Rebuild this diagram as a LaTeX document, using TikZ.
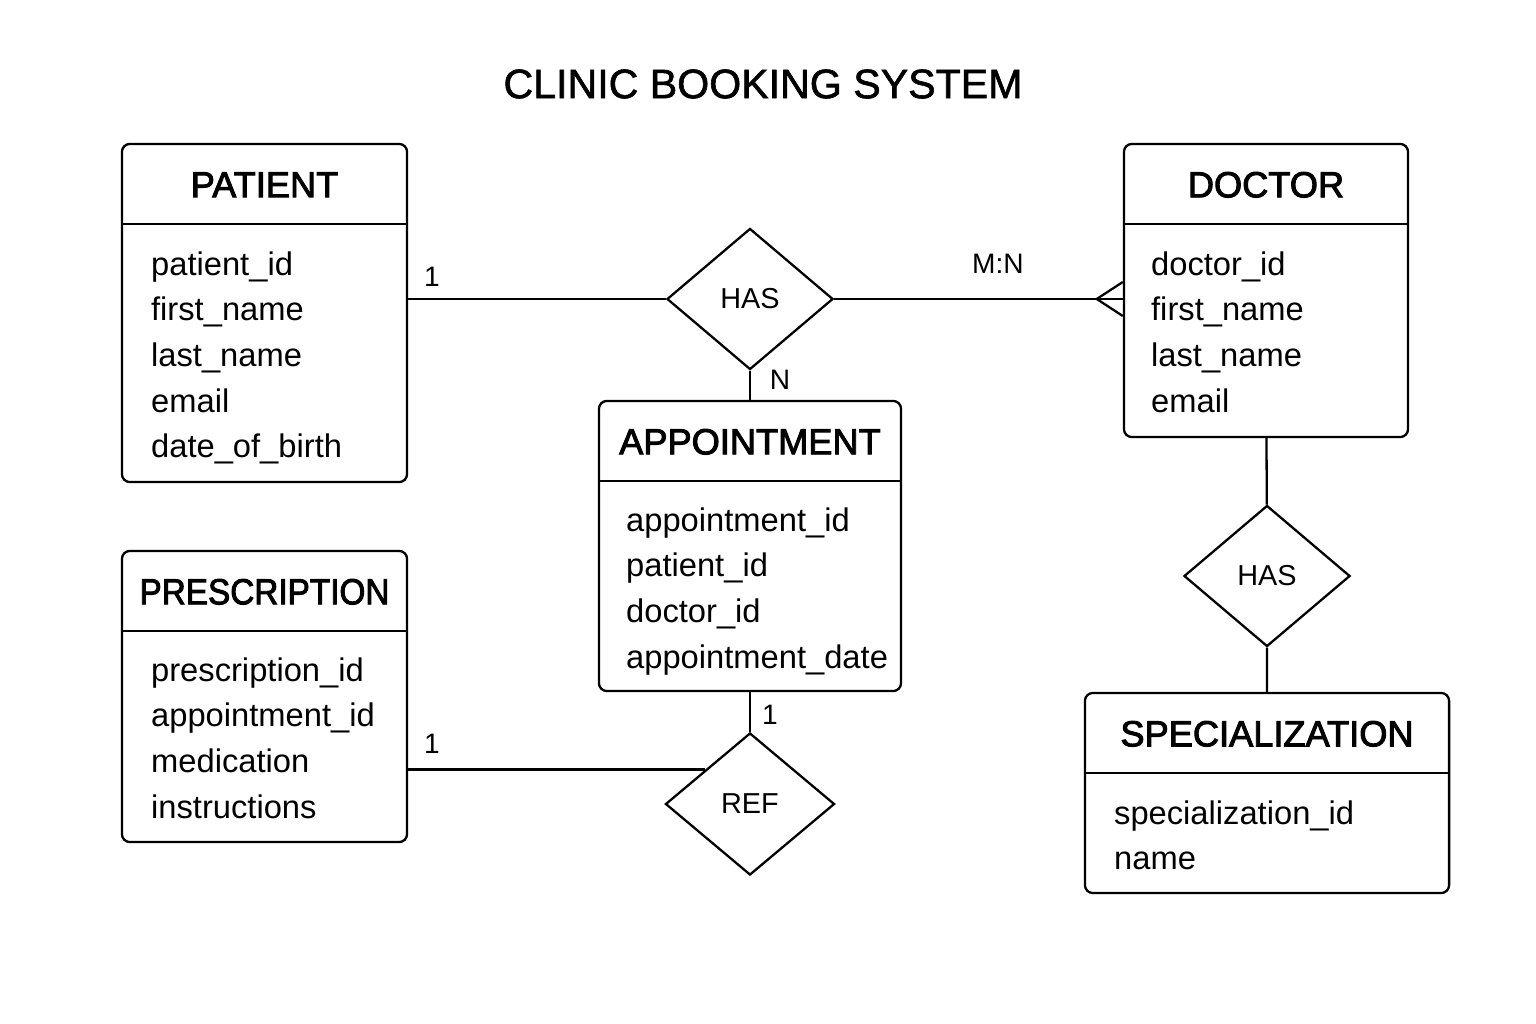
\documentclass[tikz,border=0pt]{standalone}
\usepackage{fontspec}
\setmainfont{Liberation Sans}
\newfontfamily\headfont[FakeBold=2.6]{Liberation Sans}
\newfontfamily\titlefont[FakeBold=1.4]{Liberation Sans}
\usetikzlibrary{shapes.geometric,calc}

\begin{document}
\begin{tikzpicture}[x=0.01cm,y=-0.01cm,line width=0.65pt,
    entity/.style={draw,rounded corners=0.08cm,inner sep=0},
    relation/.style={draw,diamond,inner sep=0,minimum width=1.66cm,minimum height=1.41cm,
                     font=\fontsize{8.2}{10}\selectfont},
    header/.style={font=\headfont\fontsize{10.3}{12}\selectfont},
    attr/.style={anchor=base west,inner sep=0,font=\fontsize{9.3}{11}\selectfont},
    card/.style={inner sep=0,font=\fontsize{8}{10}\selectfont}]
        \useasboundingbox (0,0) rectangle (1536,1024);

        \node[font=\titlefont\fontsize{11.7}{14}\selectfont] (title) at (763,84) {CLINIC BOOKING SYSTEM};

        % Entities
        \node[entity,minimum width=2.85cm,minimum height=3.38cm] (patient) at (264.5,313) {};
        \node[entity,minimum width=2.84cm,minimum height=2.93cm] (doctor) at (1266,290.5) {};
        \node[entity,minimum width=3.02cm,minimum height=2.90cm] (appointment) at (750,546) {};
        \node[entity,minimum width=2.85cm,minimum height=2.91cm] (prescription) at (264.5,696.5) {};
        \node[entity,minimum width=3.64cm,minimum height=2.00cm] (specialization) at (1267,793) {};

        \foreach \e in {patient,doctor,appointment,prescription,specialization}
            \draw ([yshift=-0.81cm]\e.north west) -- ([yshift=-0.81cm]\e.north east);

        \node[header] (patient-title) at ([yshift=-0.42cm]patient.north) {PATIENT};
        \node[header] (doctor-title) at ([yshift=-0.42cm]doctor.north) {DOCTOR};
        \node[header] (appointment-title) at ([yshift=-0.42cm]appointment.north) {APPOINTMENT};
        \node[header,xscale=0.92,transform shape] (prescription-title) at ([yshift=-0.42cm]prescription.north) {PRESCRIPTION};
        \node[header] (specialization-title) at ([yshift=-0.42cm]specialization.north) {SPECIALIZATION};

        % Attributes
        \foreach \a [count=\i from 0] in {patient\_id,first\_name,last\_name,email,date\_of\_birth}
            \node[attr] (patient-\i) at (150,{275+45.7*\i}) {\a};
        \foreach \a [count=\i from 0] in {doctor\_id,first\_name,last\_name,email}
            \node[attr] (doctor-\i) at (1150,{275+45.7*\i}) {\a};
        \foreach \a [count=\i from 0] in {appointment\_id,patient\_id,doctor\_id,appointment\_date}
            \node[attr] (appointment-\i) at (625,{531+45.7*\i}) {\a};
        \foreach \a [count=\i from 0] in {prescription\_id,appointment\_id,medication,instructions}
            \node[attr] (prescription-\i) at (150,{681+45.7*\i}) {\a};
        \foreach \a [count=\i from 0] in {specialization\_id,name}
            \node[attr] (specialization-\i) at (1113,{824+45.7*\i}) {\a};

        % Relationships
        \node[relation] (has1) at (750,299) {HAS};
        \node[relation] (has2) at (1267,576) {HAS};
        \node[relation,minimum width=1.69cm,minimum height=1.42cm] (ref) at (750,804) {REF};

        \draw (patient.east |- has1) -- (has1);
        \draw (has1) -- (doctor.west |- has1);
        \draw ([yshift=0.17cm]doctor.west |- has1) -- ([xshift=-0.26cm]doctor.west |- has1)
              -- ([yshift=-0.17cm]doctor.west |- has1);
        \draw (has1) -- (appointment);
        \draw (doctor) -- (has2) -- (specialization);
        \draw (appointment) -- (ref);
        \coordinate (ref-in) at ($(ref.west)!0.48!(ref.north)$);
        \draw (prescription.east |- ref-in) -- (ref-in);

        % Cardinalities
        \node[card] (c1) at (432,277) {1};
        \node[card] (c2) at (998,264) {M:N};
        \node[card] (c3) at (780,380) {N};
        \node[card] (c4) at (770,715) {1};
        \node[card] (c5) at (432,744) {1};

    \end{tikzpicture}
\end{document}
